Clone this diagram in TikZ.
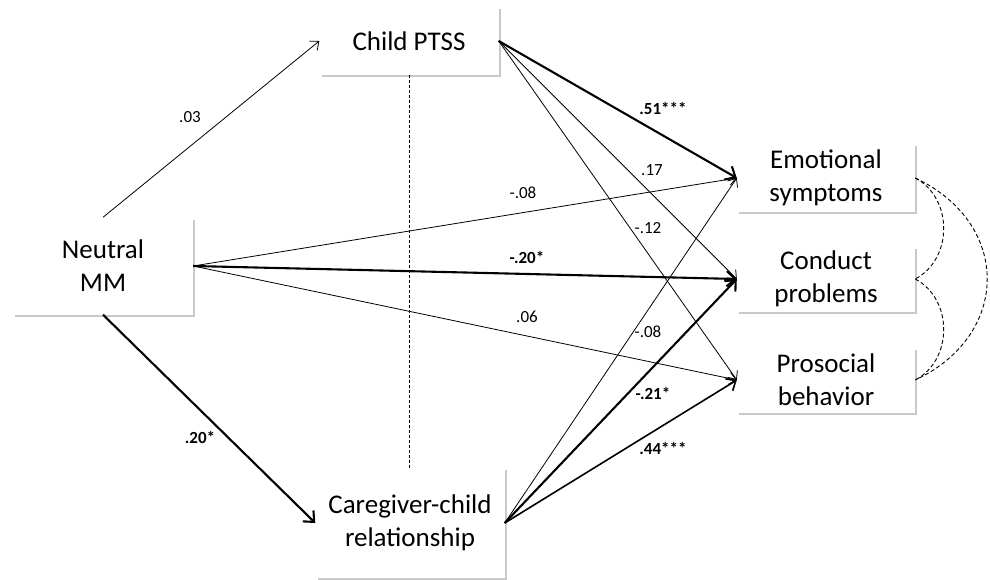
\documentclass[tikz,border=0pt]{standalone}
\usepackage{fontspec}
\setmainfont{Carlito}
\usetikzlibrary{arrows.meta,shadows}

\tikzset{
  var/.style={fill=white, align=center, inner sep=0pt,
    font=\fontsize{27}{33}\selectfont,
    drop shadow={shadow xshift=2pt, shadow yshift=-2pt, fill=black!30, opacity=0.7}},
  coef/.style={font=\fontsize{17}{20}\selectfont, inner sep=1pt},
  sig/.style={inner sep=1pt, font=\bfseries\fontsize{17}{20}\selectfont},
  eff/.style={-{Straight Barb[length=6pt 1.2, width=10pt 2.5]}, line width=0.8pt},
  effmid/.style={eff, line width=1.6pt},
  effbold/.style={eff, line width=2.1pt},
  corr/.style={dash pattern=on 4pt off 2.5pt, line width=0.9pt},
}

\begin{document}
\begin{tikzpicture}[x=1pt, y=-1pt]
			\useasboundingbox (0,0) rectangle (990,580);
			% variables
			\node[var, minimum width=179pt, minimum height=68pt] (ptss) at (409,41) {Child PTSS};
			\node[var, minimum width=180pt, minimum height=97pt] (mm) at (103,266) {Neutral\\MM};
			\node[var, minimum width=189pt, minimum height=110pt] (care) at (410,523) {Caregiver-child\\relationship};
			\node[var, minimum width=178pt, minimum height=67pt] (emo) at (826,178) {Emotional\\symptoms};
			\node[var, minimum width=178pt, minimum height=65pt] (cond) at (826,279) {Conduct\\problems};
			\node[var, minimum width=178pt, minimum height=65pt] (pros) at (826,380) {Prosocial\\behavior};
			% split line
			\draw[dash pattern=on 3pt off 2pt, line width=0.7pt] (409,75) -- (409,468);
			% paths
			\draw[eff] (mm.north) -- (ptss.west);
			\draw[effbold] (mm.south) -- (care.west);
			\draw[eff] (mm.east) -- (emo.west);
			\draw[effbold] (mm.east) -- (cond.west);
			\draw[eff] (mm.east) -- (pros.west);
			\draw[effbold] (ptss.east) -- (emo.west);
			\draw[eff] (ptss.east) -- (cond.west);
			\draw[eff] (ptss.east) -- (pros.west);
			\draw[eff] (care.east) -- (emo.west);
			\draw[effbold] (care.east) -- (cond.west);
			\draw[effmid] (care.east) -- (pros.west);
			% residual correlations
			\draw[corr] (emo.east) .. controls +(38,20) and +(38,-20) .. (cond.east);
			\draw[corr] (cond.east) .. controls +(38,20) and +(38,-20) .. (pros.east);
			\draw[corr] (emo.east) .. controls +(96,45) and +(96,-45) .. (pros.east);
			% coefficients
			\node[coef] (c1) at (190,117) {.03};
			\node[sig] (c2) at (200,437) {.20*};
			\node[coef] (c3) at (523,193) {-.08};
			\node[sig] (c4) at (527,257) {-.20*};
			\node[coef] (c5) at (527,317) {.06};
			\node[sig] (c6) at (663,108) {.51***};
			\node[coef] (c7) at (652,170) {.17};
			\node[coef] (c8) at (648,228) {-.12};
			\node[coef] (c9) at (648,332) {-.08};
			\node[sig] (c10) at (653,393) {-.21*};
			\node[sig] (c11) at (663,448) {.44***};
\end{tikzpicture}
\end{document}
